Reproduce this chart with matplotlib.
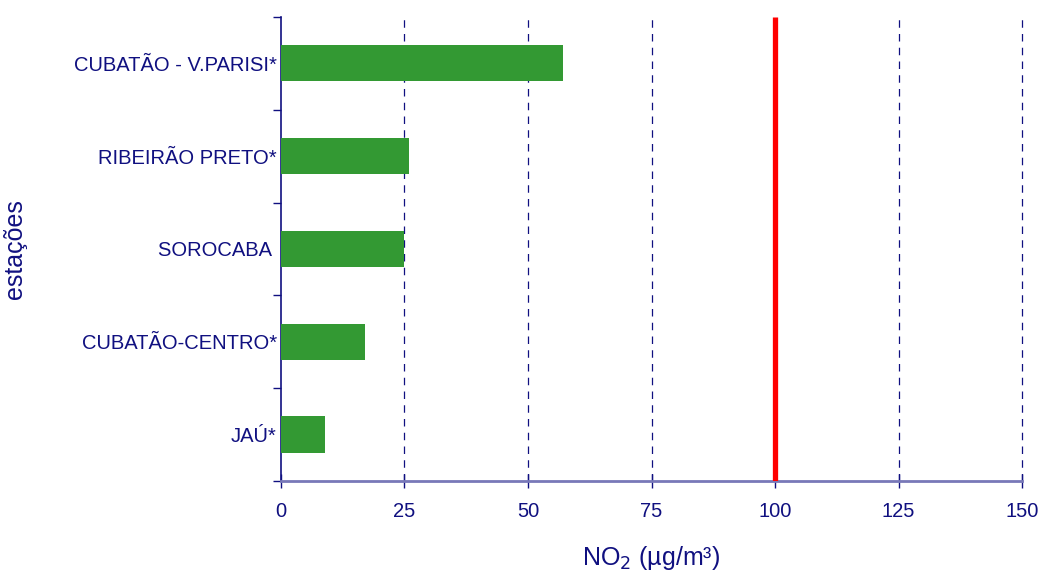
import matplotlib.pyplot as plt
import numpy as np
from matplotlib.ticker import FixedLocator

plt.rcParams['font.family'] = ['Liberation Sans', 'DejaVu Sans']

# estações, de baixo para cima
stations = ["JAÚ*", "CUBATÃO-CENTRO*", "SOROCABA ", "RIBEIRÃO PRETO*", "CUBATÃO - V.PARISI*"]
no2 = [9, 17, 25, 26, 57]
limit = 100
xticks = [0, 25, 50, 75, 100, 125, 150]

navy = "#101080"

fig = plt.figure(figsize=(10.46, 5.76), dpi=100)
ax = fig.add_axes([0.2686, 0.165, 0.7085, 0.8055])

y = np.arange(len(stations))
ax.barh(y, no2, height=0.39, color="#339933", zorder=3)
ax.plot([limit, limit], [-0.5, len(stations) - 0.5], color="#ff0000", lw=3.8, zorder=4, solid_capstyle="butt")

ax.set_xlim(0, 150)
ax.set_ylim(-0.5, len(stations) - 0.5)
ax.set_xticks(xticks)
ax.set_xticklabels([str(v) for v in xticks], fontsize=14.5, color=navy)
ax.set_yticks(y)
ax.set_yticklabels(stations, fontsize=14.5, color=navy)
ax.yaxis.set_minor_locator(FixedLocator(np.arange(-0.5, len(stations), 1.0)))
ax.tick_params(axis="y", which="major", length=0, pad=3)
ax.tick_params(axis="y", which="minor", length=6, width=1, color=navy, direction="out")
ax.tick_params(axis="x", length=10, width=1, color=navy, direction="inout", pad=10)

for v in xticks[1:]:
    ax.axvline(v, color=navy, lw=0.9, ls=(0, (6, 5)), zorder=1, clip_on=False)

for s in ["top", "right"]:
    ax.spines[s].set_visible(False)
ax.spines["left"].set_color(navy)
ax.spines["left"].set_linewidth(1.2)
ax.spines["bottom"].set_color("#7878b8")
ax.spines["bottom"].set_linewidth(2)

ax.set_xlabel("NO$_2$ (µg/m³)", fontsize=18, color=navy)
ax.set_ylabel("estações", fontsize=18, color=navy)
ax.yaxis.set_label_coords(-0.343, 0.5)
ax.xaxis.set_label_coords(0.5, -0.135)

plt.savefig("out.png", dpi=100)
